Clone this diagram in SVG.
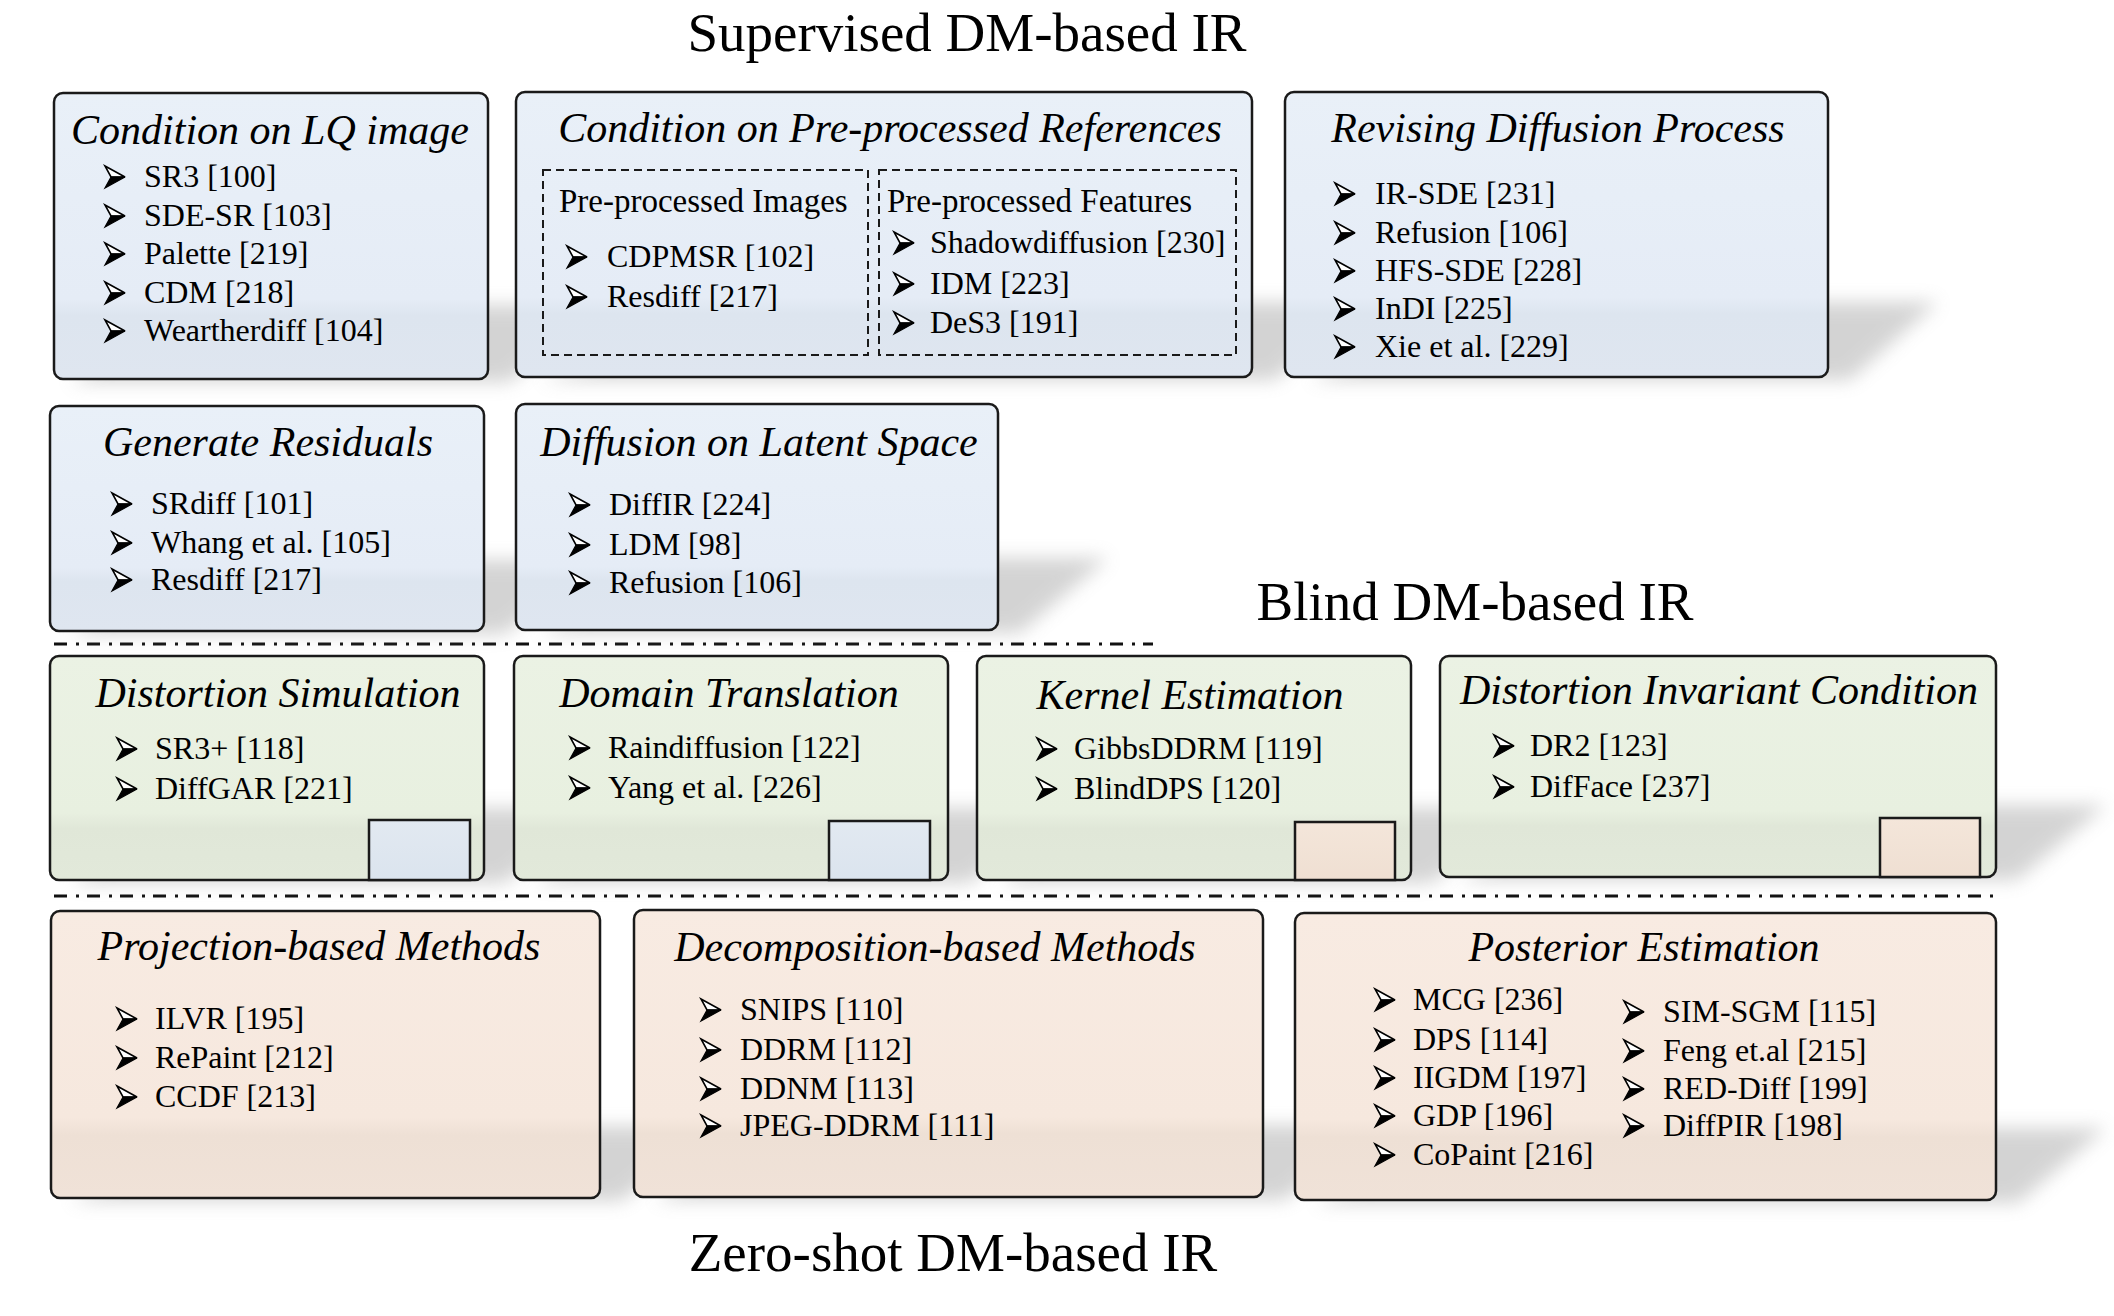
<svg xmlns="http://www.w3.org/2000/svg" xmlns:xlink="http://www.w3.org/1999/xlink" width="2114" height="1316" viewBox="0 0 2114 1316">
<style>
.sec{font-family:"Liberation Serif","Times New Roman",serif;font-size:55px;fill:#000;text-anchor:middle}
.hd{font-family:"Liberation Serif","Times New Roman",serif;font-size:42px;font-style:italic;fill:#000;text-anchor:middle}
.sub{font-family:"Liberation Serif","Times New Roman",serif;font-size:33px;fill:#000}
.it{font-family:"Liberation Serif","Times New Roman",serif;font-size:32px;fill:#000}
.box{stroke:#1a1a1a;stroke-width:2.5}
.blue{fill:url(#gBlue)}
.green{fill:url(#gGreen)}
.peach{fill:url(#gPeach)}
.sq{stroke:#1a1a1a;stroke-width:2.5}
.dash{fill:none;stroke:#1a1a1a;stroke-width:2;stroke-dasharray:8 5}
.dd{fill:none;stroke:#111;stroke-width:3;stroke-dasharray:13 9 3 8}
.sh{fill:#a0a0a0;opacity:0.45;filter:url(#blur)}
</style>
<defs>
<linearGradient id="gBlue" x1="0" y1="0" x2="0" y2="1">
<stop offset="0" stop-color="#e9f0f8"/><stop offset="0.72" stop-color="#e5ecf6"/><stop offset="0.78" stop-color="#dde5ef"/><stop offset="1" stop-color="#dfe6f0"/>
</linearGradient>
<linearGradient id="gGreen" x1="0" y1="0" x2="0" y2="1">
<stop offset="0" stop-color="#ebf2e4"/><stop offset="0.7" stop-color="#e8f0e0"/><stop offset="0.77" stop-color="#e0e7d8"/><stop offset="1" stop-color="#e2e9da"/>
</linearGradient>
<linearGradient id="gPeach" x1="0" y1="0" x2="0" y2="1">
<stop offset="0" stop-color="#f8ebe2"/><stop offset="0.72" stop-color="#f6e8de"/><stop offset="0.78" stop-color="#eee0d5"/><stop offset="1" stop-color="#f0e2d8"/>
</linearGradient>
<linearGradient id="gSqB" x1="0" y1="0" x2="0" y2="1"><stop offset="0" stop-color="#e2e9f1"/><stop offset="1" stop-color="#dbe4ee"/></linearGradient>
<linearGradient id="gSqP" x1="0" y1="0" x2="0" y2="1"><stop offset="0" stop-color="#f4e6da"/><stop offset="1" stop-color="#efdfd2"/></linearGradient>
<filter id="blur" x="-20%" y="-50%" width="140%" height="200%"><feGaussianBlur stdDeviation="9"/></filter>
<g id="arr">
<path d="M0,0 L20,11 L6,11 Z" fill="#fff" stroke="#000" stroke-width="1.6" stroke-linejoin="miter"/>
<path d="M6,11 L20,11 L0,22 Z" fill="#000" stroke="#000" stroke-width="1.2"/>
</g>
</defs>
<rect width="2114" height="1316" fill="#fff"/>

<text class="sec" x="967" y="51">Supervised DM-based IR</text>
<text class="sec" x="1475" y="620">Blind DM-based IR</text>
<text class="sec" x="953" y="1271">Zero-shot DM-based IR</text>

<g id="connectors">
<line class="dd" x1="54" y1="644" x2="1153" y2="644"/>
<line class="dd" x1="54" y1="896" x2="1996" y2="896"/>
</g>

<g id="shadows">
<polygon class="sh" points="200,305 598,305 510,382 70,382"/>
<polygon class="sh" points="800,302 1362,302 1275,380 540,380"/>
<polygon class="sh" points="1500,302 1938,302 1850,380 1310,380"/>
<polygon class="sh" points="200,560 594,560 505,634 70,634"/>
<polygon class="sh" points="700,558 1108,558 1020,633 540,633"/>
<polygon class="sh" points="200,808 594,808 505,883 70,883"/>
<polygon class="sh" points="660,808 1058,808 970,883 535,883"/>
<polygon class="sh" points="1120,808 1521,808 1432,883 1000,883"/>
<polygon class="sh" points="1600,805 2106,805 2017,880 1460,880"/>
<polygon class="sh" points="250,1126 710,1126 622,1201 70,1201"/>
<polygon class="sh" points="800,1125 1373,1125 1285,1200 655,1200"/>
<polygon class="sh" points="1500,1128 2106,1128 2018,1203 1315,1203"/>
</g>

<g id="box-lq">
<rect class="box blue" x="54" y="93" width="434" height="286" rx="9"/>
<text class="hd" x="270" y="144">Condition on LQ image</text>
<use xlink:href="#arr" x="105" y="166"/><text class="it" x="144" y="187">SR3 [100]</text>
<use xlink:href="#arr" x="105" y="205"/><text class="it" x="144" y="226">SDE-SR [103]</text>
<use xlink:href="#arr" x="105" y="243"/><text class="it" x="144" y="264">Palette [219]</text>
<use xlink:href="#arr" x="105" y="282"/><text class="it" x="144" y="303">CDM [218]</text>
<use xlink:href="#arr" x="105" y="320"/><text class="it" x="144" y="341">Weartherdiff [104]</text>
</g>

<g id="box-preproc">
<rect class="box blue" x="516" y="92" width="736" height="285" rx="9"/>
<text class="hd" x="890" y="142">Condition on Pre-processed References</text>
<rect class="dash" x="543" y="170" width="325" height="185"/>
<rect class="dash" x="879" y="170" width="357" height="185"/>
<text class="sub" x="559" y="212">Pre-processed Images</text>
<text class="sub" x="887" y="212">Pre-processed Features</text>
<use xlink:href="#arr" x="567" y="246"/><text class="it" x="607" y="267">CDPMSR [102]</text>
<use xlink:href="#arr" x="567" y="286"/><text class="it" x="607" y="307">Resdiff [217]</text>
<use xlink:href="#arr" x="894" y="232"/><text class="it" x="930" y="253">Shadowdiffusion [230]</text>
<use xlink:href="#arr" x="894" y="273"/><text class="it" x="930" y="294">IDM [223]</text>
<use xlink:href="#arr" x="894" y="312"/><text class="it" x="930" y="333">DeS3 [191]</text>
</g>

<g id="box-revising">
<rect class="box blue" x="1285" y="92" width="543" height="285" rx="9"/>
<text class="hd" x="1558" y="142">Revising Diffusion Process</text>
<use xlink:href="#arr" x="1335" y="183"/><text class="it" x="1375" y="204">IR-SDE [231]</text>
<use xlink:href="#arr" x="1335" y="222"/><text class="it" x="1375" y="243">Refusion [106]</text>
<use xlink:href="#arr" x="1335" y="260"/><text class="it" x="1375" y="281">HFS-SDE [228]</text>
<use xlink:href="#arr" x="1335" y="298"/><text class="it" x="1375" y="319">InDI [225]</text>
<use xlink:href="#arr" x="1335" y="336"/><text class="it" x="1375" y="357">Xie et al. [229]</text>
</g>

<g id="box-residuals">
<rect class="box blue" x="50" y="406" width="434" height="225" rx="9"/>
<text class="hd" x="268" y="456">Generate Residuals</text>
<use xlink:href="#arr" x="112" y="493"/><text class="it" x="151" y="514">SRdiff [101]</text>
<use xlink:href="#arr" x="112" y="532"/><text class="it" x="151" y="553">Whang et al. [105]</text>
<use xlink:href="#arr" x="112" y="569"/><text class="it" x="151" y="590">Resdiff [217]</text>
</g>

<g id="box-latent">
<rect class="box blue" x="516" y="404" width="482" height="226" rx="9"/>
<text class="hd" x="759" y="456">Diffusion on Latent Space</text>
<use xlink:href="#arr" x="570" y="494"/><text class="it" x="609" y="515">DiffIR [224]</text>
<use xlink:href="#arr" x="570" y="534"/><text class="it" x="609" y="555">LDM [98]</text>
<use xlink:href="#arr" x="570" y="572"/><text class="it" x="609" y="593">Refusion [106]</text>
</g>

<g id="box-distsim">
<rect class="box green" x="50" y="656" width="434" height="224" rx="9"/>
<text class="hd" x="278" y="707">Distortion Simulation</text>
<use xlink:href="#arr" x="117" y="738"/><text class="it" x="155" y="759">SR3+ [118]</text>
<use xlink:href="#arr" x="117" y="778"/><text class="it" x="155" y="799">DiffGAR [221]</text>
<rect class="sq" x="369" y="820" width="101" height="60" fill="url(#gSqB)"/>
</g>

<g id="box-domain">
<rect class="box green" x="514" y="656" width="434" height="224" rx="9"/>
<text class="hd" x="729" y="707">Domain Translation</text>
<use xlink:href="#arr" x="570" y="737"/><text class="it" x="608" y="758">Raindiffusion [122]</text>
<use xlink:href="#arr" x="570" y="777"/><text class="it" x="608" y="798">Yang et al. [226]</text>
<rect class="sq" x="829" y="821" width="101" height="59" fill="url(#gSqB)"/>
</g>

<g id="box-kernel">
<rect class="box green" x="977" y="656" width="434" height="224" rx="9"/>
<text class="hd" x="1190" y="709">Kernel Estimation</text>
<use xlink:href="#arr" x="1037" y="738"/><text class="it" x="1074" y="759">GibbsDDRM [119]</text>
<use xlink:href="#arr" x="1037" y="778"/><text class="it" x="1074" y="799">BlindDPS [120]</text>
<rect class="sq" x="1295" y="822" width="100" height="58" fill="url(#gSqP)"/>
</g>

<g id="box-invariant">
<rect class="box green" x="1440" y="656" width="556" height="221" rx="9"/>
<text class="hd" x="1719" y="704">Distortion Invariant Condition</text>
<use xlink:href="#arr" x="1494" y="735"/><text class="it" x="1530" y="756">DR2 [123]</text>
<use xlink:href="#arr" x="1494" y="776"/><text class="it" x="1530" y="797">DifFace [237]</text>
<rect class="sq" x="1880" y="818" width="100" height="59" fill="url(#gSqP)"/>
</g>

<g id="box-projection">
<rect class="box peach" x="51" y="911" width="549" height="287" rx="9"/>
<text class="hd" x="319" y="960">Projection-based Methods</text>
<use xlink:href="#arr" x="117" y="1008"/><text class="it" x="155" y="1029">ILVR [195]</text>
<use xlink:href="#arr" x="117" y="1047"/><text class="it" x="155" y="1068">RePaint [212]</text>
<use xlink:href="#arr" x="117" y="1086"/><text class="it" x="155" y="1107">CCDF [213]</text>
</g>

<g id="box-decomposition">
<rect class="box peach" x="634" y="910" width="629" height="287" rx="9"/>
<text class="hd" x="935" y="961">Decomposition-based Methods</text>
<use xlink:href="#arr" x="701" y="999"/><text class="it" x="740" y="1020">SNIPS [110]</text>
<use xlink:href="#arr" x="701" y="1039"/><text class="it" x="740" y="1060">DDRM [112]</text>
<use xlink:href="#arr" x="701" y="1078"/><text class="it" x="740" y="1099">DDNM [113]</text>
<use xlink:href="#arr" x="701" y="1115"/><text class="it" x="740" y="1136">JPEG-DDRM [111]</text>
</g>

<g id="box-posterior">
<rect class="box peach" x="1295" y="913" width="701" height="287" rx="9"/>
<text class="hd" x="1644" y="961">Posterior Estimation</text>
<use xlink:href="#arr" x="1375" y="989"/><text class="it" x="1413" y="1010">MCG [236]</text>
<use xlink:href="#arr" x="1375" y="1029"/><text class="it" x="1413" y="1050">DPS [114]</text>
<use xlink:href="#arr" x="1375" y="1067"/><text class="it" x="1413" y="1088">IIGDM [197]</text>
<use xlink:href="#arr" x="1375" y="1105"/><text class="it" x="1413" y="1126">GDP [196]</text>
<use xlink:href="#arr" x="1375" y="1144"/><text class="it" x="1413" y="1165">CoPaint [216]</text>
<use xlink:href="#arr" x="1624" y="1001"/><text class="it" x="1663" y="1022">SIM-SGM [115]</text>
<use xlink:href="#arr" x="1624" y="1040"/><text class="it" x="1663" y="1061">Feng et.al [215]</text>
<use xlink:href="#arr" x="1624" y="1078"/><text class="it" x="1663" y="1099">RED-Diff [199]</text>
<use xlink:href="#arr" x="1624" y="1115"/><text class="it" x="1663" y="1136">DiffPIR [198]</text>
</g>
</svg>
